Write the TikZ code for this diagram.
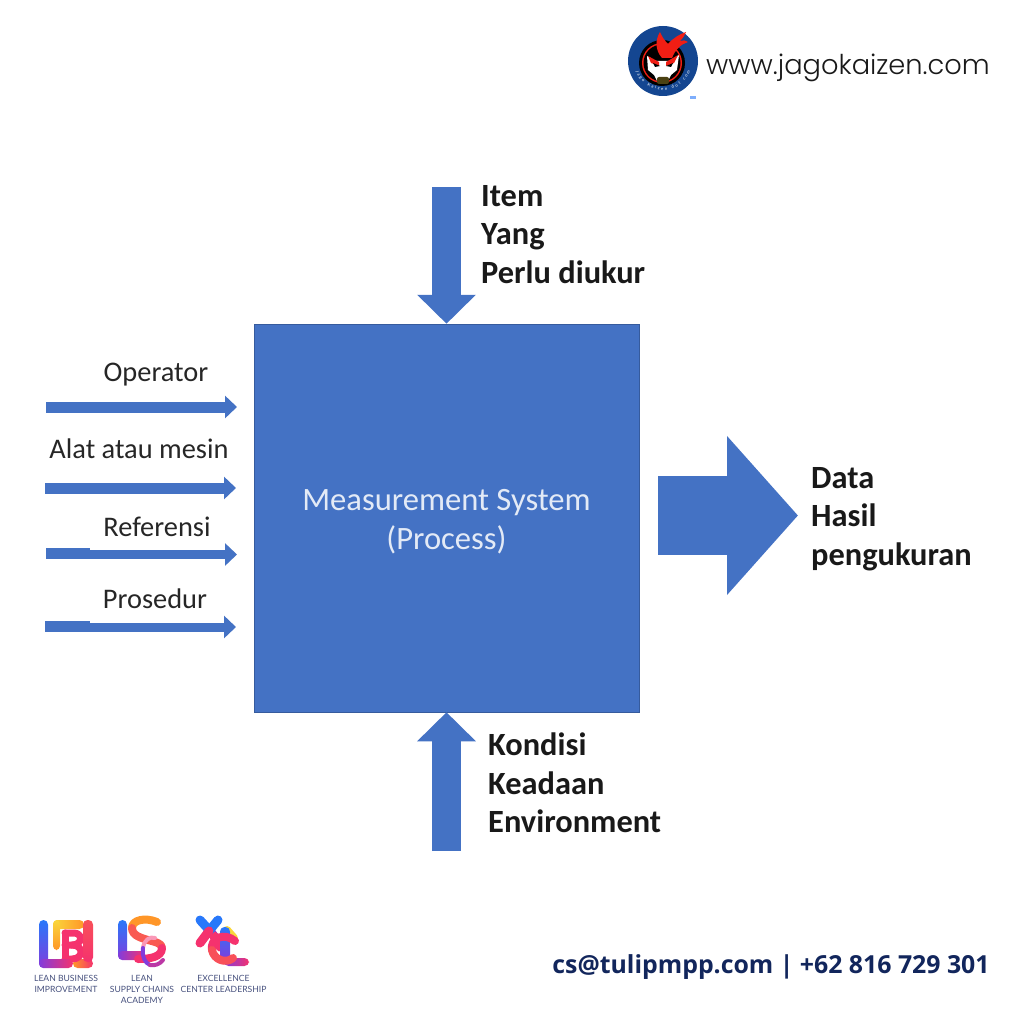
\documentclass[tikz,border=0pt]{standalone}
\usepackage{fontspec}
\setmainfont{Carlito}
\newfontfamily\webfont{Poppins Light}
\newfontfamily\contactfont{Open Sans}
\newfontfamily\logofont{Lato}
\usepackage{tikz}
\usetikzlibrary{arrows.meta,decorations.text}
\definecolor{boxblue}{RGB}{68,114,196}
\definecolor{navy}{RGB}{18,38,92}
\definecolor{logoblue}{RGB}{20,70,145}
\definecolor{logored}{RGB}{240,30,20}
\definecolor{logotext}{RGB}{70,80,125}
\definecolor{lsblue}{RGB}{40,120,250}
\definecolor{lspink}{RGB}{245,50,110}
\definecolor{lsorange}{RGB}{255,150,40}
\definecolor{lsyellow}{RGB}{250,215,60}
\definecolor{lspurple}{RGB}{130,60,220}
\tikzset{
  inarrow/.style={-{Triangle[length=12pt,width=22pt]},line width=11pt,boxblue},
  thinarrow/.style={inarrow,line width=9pt},
  updown/.style={-{Triangle[length=29pt,width=57pt]},line width=29pt,boxblue},
  bigarrow/.style={-{Triangle[length=71pt,width=155pt]},line width=79pt,boxblue},
  small/.style={font=\fontsize{28.4}{30}\selectfont,text=black!85,inner sep=0pt},
  bold/.style={font=\fontsize{32.4}{38.5}\selectfont\bfseries,text=black!90,inner sep=0pt,align=left,anchor=north west},
  mini/.style={font=\logofont\fontsize{8.6}{11.2}\selectfont,text=logotext,inner sep=0pt,align=center,anchor=north},
  stroke/.style={line width=#1,line cap=round,line join=round},
}
\begin{document}
\begin{tikzpicture}[x=1pt,y=-1pt]
  \useasboundingbox (0,0) rectangle (1024,1024);

  % process box
  \node [fill=boxblue,draw=boxblue!80!black,line width=0.5pt,minimum width=385pt,minimum height=388pt,inner sep=0pt] (sys) at (446.5,518) {};
  \node [align=center,text=white!85!boxblue,inner sep=0pt,font=\fontsize{32.6}{39}\selectfont] (systext) at (446.5,522) {Measurement System\\(Process)};

  % left inputs
  \coordinate (op0)  at (46,407);
  \coordinate (op1)  at (237,407);
  \coordinate (al0)  at (45,488);
  \coordinate (al1)  at (236,488);
  \coordinate (re0)  at (46,554.5);
  \coordinate (re1)  at (237,554.5);
  \coordinate (pr0)  at (45,627);
  \coordinate (pr1)  at (236,627);
  \coordinate (res)  at (90,553.5);
  \coordinate (prs)  at (90,626);
  \draw [inarrow] (op0) to (op1);
  \draw [inarrow] (al0) to (al1);
  \draw [thinarrow] (re0) to (re1);
  \draw [thinarrow] (pr0) to (pr1);
  \draw [boxblue,line width=11pt] (re0 |- res) to (res);
  \draw [boxblue,line width=11pt] (pr0 |- prs) to (prs);
  \node [small] (op) at (156,375) {Operator};
  \node [small] (al) at (139,449) {Alat atau mesin};
  \node [small] (re) at (157,527) {Referensi};
  \node [small] (pr) at (155,599) {Prosedur};

  % top, bottom and output
  \coordinate (top0) at (446.5,187);
  \coordinate (bot0) at (446.5,851);
  \coordinate (out0) at (658,515.5);
  \coordinate (out1) at (798,515.5);
  \draw [updown] (top0) to (sys.north -| top0);
  \draw [updown] (bot0) to (sys.south -| bot0);
  \draw [bigarrow] (out0) to (out1);
  \node [bold] (item) at (481,185) {Item\\Yang\\Perlu diukur};
  \node [bold] (kond) at (488,733) {Kondisi\\Keadaan\\Environment};
  \node [bold] (data) at (811,467) {Data\\Hasil\\pengukuran};

  % header
  \fill [logoblue] (663,61) circle (35);
  \fill [black] (662,63) circle (23);
  \fill [logored] (662,63) circle (20);
  \fill [black] (662,63) circle (18.5);
  \fill [white] (647,56) -- (655,61) -- (671,61) -- (679,55) -- (677,70) -- (671,75) -- (668,81) -- (657,81) -- (654,75) -- (648,70) -- cycle;
  \fill [logored] (648,56) -- (659,62) -- (659,66) -- (651,63) -- cycle;
  \fill [logored] (678,55) -- (666,62) -- (666,66) -- (674,63) -- cycle;
  \fill [black] (653,63) -- (660,66) -- (655,67) -- cycle;
  \fill [black] (673,63) -- (666,66) -- (671,67) -- cycle;
  \fill [black!70!lsyellow,rounded corners=2pt] (657,77) rectangle (669,84);
  \fill [logored] (662,58) .. controls (655,50) and (655,40) .. (660,32) .. controls (662,37) and (665,41) .. (668,44)
        .. controls (673,38) and (680,34) .. (686,32) .. controls (685,35) and (683,38) .. (680,41)
        .. controls (683,40) and (686,40) .. (688,42) .. controls (681,44) and (675,50) .. (672,58) -- cycle;
  \path [postaction={decorate,decoration={text along path,text align={fit to path},
         text={|\logofont\fontsize{4.2}{5}\selectfont\color{white}|Jago Kaizen dot com}}}]
        (635.7,71) arc (160:20:29);
  \fill [lsblue!60] (690,96) rectangle (696,99);
  \node [font=\webfont\fontsize{27.3}{32}\selectfont,text=black!90,inner sep=0pt] (web) at (848,68) {www.jagokaizen.com};

  % footer
  \node [font=\contactfont\fontsize{24.85}{30}\selectfont\bfseries,text=navy,inner sep=0pt] (mail) at (771,967) {cs@tulipmpp.com | +62 816 729 301};

  % LBI mark
  \shade [rounded corners=4.5pt,left color=lsorange,right color=lspink] (73,959) rectangle (93,968);
  \shade [rounded corners=4.5pt,left color=lsyellow,right color=lsorange] (53,920) rectangle (84,929);
  \shade [rounded corners=4pt,top color=lsyellow,bottom color=lsorange] (53,920) rectangle (60,950);
  \draw [stroke=7pt,lspink] (65,933) -- (65,960);
  \draw [stroke=7pt,lspink] (65,933) -- (74,933) .. controls (83,933) and (83,945) .. (72,945) -- (65,945);
  \draw [stroke=7pt,lspink] (72,945) .. controls (84,945) and (84,959) .. (72,959) -- (65,959);
  \shade [rounded corners=4.5pt,top color=lspink!70!lsorange,bottom color=lspink] (83,920) rectangle (93,962);
  \shade [rounded corners=4.5pt,top color=lsblue,bottom color=lspurple] (39,920) rectangle (48,968);
  \shade [rounded corners=4.5pt,left color=lspurple,right color=lspink] (39,959) rectangle (73,968);

  % LSC mark
  \shade [rounded corners=4.5pt,top color=lsblue,bottom color=lspurple] (118,920) rectangle (127,960);
  \shade [rounded corners=4.5pt,left color=lspurple,right color=lspink] (118,951) rectangle (145,960);
  \draw [stroke=8pt,lsorange] (157,922) .. controls (145,917) and (132,920) .. (132,928);
  \draw [stroke=8pt,lspink!60!lsorange] (132,928) .. controls (132,936) and (142,938) .. (148,940);
  \draw [stroke=8pt,lspink!60!lsorange] (148,940) .. controls (155,942) and (162,943) .. (162,948);
  \draw [stroke=8pt,lspink] (162,948) .. controls (162,957) and (150,959) .. (138,959);
  \draw [stroke=4pt,lspink!50] (143,948) .. controls (144,940) and (150,936) .. (155,938);
  \draw [stroke=4pt,lspurple] (143,948) .. controls (142,957) and (145,963) .. (150,965);
  \draw [stroke=4pt,lspink!50!lspurple] (150,965) .. controls (155,966) and (160,964) .. (163,960);

  % XCL mark
  \draw [stroke=8pt,lsyellow] (227,930) -- (234,938);
  \draw [stroke=9pt,lsblue] (200,920) -- (210,931);
  \draw [stroke=9pt,lspurple] (210,931) -- (214,936);
  \draw [stroke=9pt,lspink] (214,936) -- (220,947);
  \draw [stroke=9pt,lsblue] (218,920) -- (209,931);
  \draw [stroke=9pt,lspink] (209,931) -- (200,943);
  \shade [rounded corners=4.5pt,top color=lsblue,bottom color=lspurple] (220,927) rectangle (230,960);
  \shade [rounded corners=4.5pt,left color=lspurple,right color=lspink] (224,958) rectangle (249,966);
  \draw [stroke=8pt,lspink] (235,941) .. controls (224,932) and (210,938) .. (212,950);
  \draw [stroke=8pt,lspink!70!lsorange] (212,950) .. controls (214,960) and (226,964) .. (233,958);

  \node [mini] (lbi) at (66,975) {LEAN BUSINESS\\IMPROVEMENT};
  \node [mini] (lsc) at (142,975) {LEAN\\SUPPLY CHAINS\\ACADEMY};
  \node [mini] (ecl) at (223.5,975) {EXCELLENCE\\CENTER LEADERSHIP};
\end{tikzpicture}
\end{document}
